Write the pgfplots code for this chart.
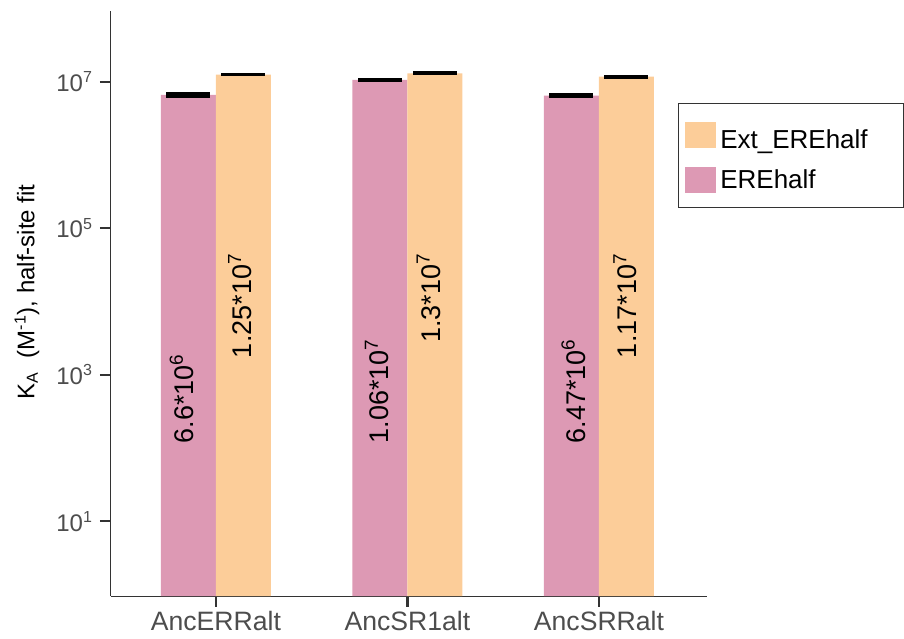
\documentclass[border=0pt]{standalone}
\usepackage{pgfplots}
\pgfplotsset{compat=1.18}
\usepackage{fontspec}
\setmainfont{Liberation Sans}
\definecolor{pinkbar}{HTML}{DD99B4}
\definecolor{peachbar}{HTML}{FCCD99}
\definecolor{axisgray}{HTML}{333333}
\definecolor{ticktext}{HTML}{4D4D4D}

\begin{document}
\begin{tikzpicture}
\path[use as bounding box] (-55.5pt,-21pt) rectangle (396.5pt,298pt);
\begin{axis}[
  at={(0pt,0pt)}, anchor=south west,
  scale only axis, width=298pt, height=292.5pt,
  ymode=log, log origin=infty,
  xmin=0.452, xmax=3.564, ymin=0.955, ymax=9.23e7,
  axis x line*=bottom, axis y line*=left,
  axis line style={axisgray, line width=0.5pt, -},
  xtick={1,2,3}, xticklabels={AncERRalt,AncSR1alt,AncSRRalt},
  ytick={1e1,1e3,1e5,1e7},
  yticklabels={10\textsuperscript{1},10\textsuperscript{3},10\textsuperscript{5},10\textsuperscript{7}},
  yminorticks=false, xminorticks=false,
  tick style={axisgray, line width=1.2pt},
  major tick length=5.5pt,
  tick align=outside,
  xticklabel style={font=\fontsize{13.3}{16}\selectfont, text=ticktext, inner ysep=2pt},
  yticklabel style={font=\fontsize{12}{14}\selectfont, text=ticktext},
  ylabel={K\textsubscript{A}\ \ (M\textsuperscript{-1}), half-site fit},
  ylabel style={font=\fontsize{12}{14}\selectfont, at={(axis description cs:-0.141,0.52)}, anchor=center},
  legend style={at={(0.951,0.843)}, anchor=north west, draw=axisgray, line width=0.5pt,
    font=\fontsize{13}{15.6}\selectfont, inner xsep=3.5pt, inner ysep=6pt, row sep=5pt},
  legend cell align=left,
  reverse legend,
  legend image code/.code={\fill[#1] (0pt,-6.5pt) rectangle (15.5pt,6.5pt);},
  clip=false,
]
% half-site binding constants
\addplot[ybar, bar width=27.5pt, bar shift=-13.75pt, fill=pinkbar, draw=none]
  coordinates {(1,6.6e6) (2,1.06e7) (3,6.47e6)};
\addlegendentry{EREhalf}
\addplot[ybar, bar width=27.5pt, bar shift=13.75pt, fill=peachbar, draw=none]
  coordinates {(1,1.25e7) (2,1.3e7) (3,1.17e7)};
\addlegendentry{\rule{0pt}{14.5pt}Ext\_EREhalf\hspace*{12.5pt}}
% error ranges, centred on each bar
\addplot[forget plot, draw=none, mark=none,
  error bars/.cd, y dir=both, y explicit, error mark=none,
  error bar style={line width=22pt, black}]
  coordinates {(0.8564,6.6e6) +- (0,0.56e6) (1.8564,1.06e7) +- (0,0.68e6) (2.8564,6.47e6) +- (0,0.55e6)};
\addplot[forget plot, draw=none, mark=none,
  error bars/.cd, y dir=both, y explicit, error mark=none,
  error bar style={line width=22pt, black}]
  coordinates {(1.1436,1.25e7) +- (0,0.66e6) (2.1436,1.3e7) +- (0,0.84e6) (3.1436,1.17e7) +- (0,0.76e6)};
% value labels written up the bars
\addplot[forget plot, draw=none, mark=none, nodes near coords, point meta=explicit symbolic,
  nodes near coords style={rotate=90, anchor=base west, inner sep=0pt,
    font=\fontsize{13.5}{16}\selectfont, text=black}]
  coordinates {(0.8815,115) [6.6*10\textsuperscript{6}]
               (1.900,115) [1.06*10\textsuperscript{7}]
               (2.927,115) [6.47*10\textsuperscript{6}]};
\addplot[forget plot, draw=none, mark=none, nodes near coords, point meta=explicit symbolic,
  nodes near coords style={rotate=90, anchor=base east, inner sep=0pt,
    font=\fontsize{13.5}{16}\selectfont, text=black}]
  coordinates {(1.1864,45900) [1.25*10\textsuperscript{7}]
               (2.170,45900) [1.3*10\textsuperscript{7}]
               (3.197,45900) [1.17*10\textsuperscript{7}]};
\end{axis}
\end{tikzpicture}
\end{document}
